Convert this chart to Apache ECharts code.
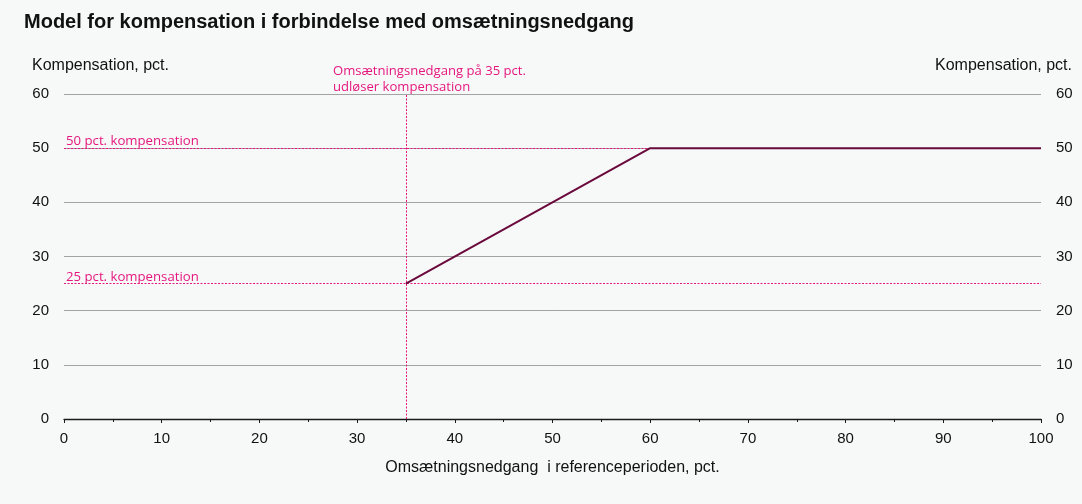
<!DOCTYPE html>
<html>
<head>
<meta charset="utf-8">
<script src="https://cdn.jsdelivr.net/npm/echarts@6/dist/echarts.min.js"></script>
<style>
  html, body { margin: 0; padding: 0; background: #f7f8f8; }
  #chart { width: 1082px; height: 504px; }
</style>
</head>
<body>
<div id="chart"></div>
<script>
// Compensation model: turnover decline (x) vs. compensation share (y)
const declinePct = [35, 60, 100];
const compensationPct = [25, 50, 50];

// Reference levels and the threshold that triggers compensation
const levelLines = [50, 25];
const levelLabels = ['50 pct. kompensation', '25 pct. kompensation'];
const thresholdDecline = 35;
const thresholdText = 'Omsætningsnedgang på 35 pct.\nudløser kompensation';

const yTicks = { min: 0, max: 60, interval: 10 };
const xTicks = { min: 0, max: 100, interval: 10 };

const pink = '#e5177e';
const lineColor = '#6a0a3c';
const textFont = 'Liberation Sans';
const noteFont = 'Open Sans';

const chart = echarts.init(document.getElementById('chart'), null, { renderer: 'canvas' });

const yAxisCommon = {
  type: 'value',
  min: yTicks.min, max: yTicks.max, interval: yTicks.interval,
  name: 'Kompensation, pct.',
  nameGap: 20,
  nameTextStyle: { fontFamily: textFont, fontSize: 16, color: '#111' },
  axisLine: { show: false },
  axisTick: { show: false },
  axisLabel: { fontFamily: textFont, fontSize: 15, color: '#111', margin: 15 },
  splitLine: { lineStyle: { color: '#a3a3a3', width: 1 } }
};

chart.setOption({
  backgroundColor: '#f7f8f8',
  animation: false,
  title: {
    text: 'Model for kompensation i forbindelse med omsætningsnedgang',
    left: 24, top: 12, padding: 0,
    textStyle: { fontFamily: textFont, fontSize: 20, fontWeight: 'bold', color: '#111' }
  },
  grid: { left: 64, right: 41, top: 94, bottom: 85 },
  xAxis: {
    type: 'value',
    min: xTicks.min, max: xTicks.max, interval: xTicks.interval,
    name: 'Omsætningsnedgang  i referenceperioden, pct.',
    nameLocation: 'middle',
    nameGap: 41,
    nameTextStyle: { fontFamily: textFont, fontSize: 16, color: '#111', verticalAlign: 'top' },
    axisLine: { onZero: false, lineStyle: { color: '#1a1a1a', width: 1.3 } },
    axisTick: { length: 4, lineStyle: { color: '#1a1a1a' } },
    minorTick: { show: true, splitNumber: 2, length: 3, lineStyle: { color: '#1a1a1a' } },
    axisLabel: { fontFamily: textFont, fontSize: 15, color: '#111', margin: 12 },
    splitLine: { show: false }
  },
  yAxis: [
    Object.assign({}, yAxisCommon, {
      position: 'left',
      nameTextStyle: Object.assign({}, yAxisCommon.nameTextStyle, { align: 'left', padding: [0, 0, 0, -32] })
    }),
    Object.assign({}, yAxisCommon, {
      position: 'right',
      nameTextStyle: Object.assign({}, yAxisCommon.nameTextStyle, { align: 'right', padding: [0, -31, 0, 0] })
    })
  ],
  series: [
    {
      type: 'line',
      yAxisIndex: 0,
      data: declinePct.map((x, i) => [x, compensationPct[i]]),
      symbol: 'none',
      z: 5,
      lineStyle: { color: lineColor, width: 2 },
      markLine: {
        silent: true,
        symbol: 'none',
        z: 3,
        lineStyle: { color: pink, type: [2, 1.5], width: 1 },
        label: { show: false },
        data: [
          ...levelLines.map((v, i) => ({
            yAxis: v,
            label: {
              show: true,
              position: 'insideStartTop',
              distance: [2, 0],
              formatter: levelLabels[i],
              fontFamily: noteFont, fontSize: 13.2, color: pink
            }
          })),
          { xAxis: thresholdDecline }
        ]
      },
      markPoint: {
        silent: true,
        symbol: 'circle',
        symbolSize: 0,
        data: [{
          coord: [thresholdDecline, yTicks.max],
          label: {
            show: true,
            formatter: thresholdText,
            position: 'top',
            align: 'left',
            offset: [-73, 6],
            lineHeight: 16,
            fontFamily: noteFont, fontSize: 13.1, color: pink
          }
        }]
      }
    },
    {
      type: 'line', yAxisIndex: 1, data: [], symbol: 'none'
    }
  ]
});
</script>
</body>
</html>
